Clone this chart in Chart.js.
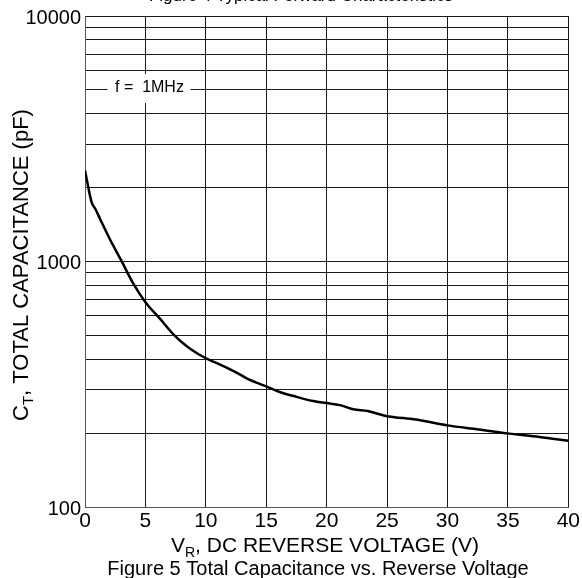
<!DOCTYPE html>
<html>
<head>
<meta charset="utf-8">
<script src="https://cdn.jsdelivr.net/npm/chart.js@4"></script>
<style>
  html, body { margin: 0; padding: 0; background: #fff; }
  canvas { display: block; }
</style>
</head>
<body>
<canvas id="capChart" width="582" height="578"></canvas>
<script>
// reverse voltage (V) and total capacitance (pF)
const voltage = [0, 0.55, 0.85, 1.25, 2.05, 3.0, 4.0, 5.0, 6.2, 7.4, 8.5, 9.4, 10.5, 11.0, 12.3, 13.6, 15.0, 16.1, 17.5, 18.9, 20.0, 21.1, 22.2, 23.4, 24.9, 27.4, 30.0, 32.6, 35.1, 37.6, 40.0];
const capacitance = [2350, 1740, 1640, 1490, 1235, 1010, 812, 683, 585, 500, 448, 419, 393, 384, 358, 330, 310, 294, 281, 270, 265, 260, 250, 246, 235, 227, 215, 207, 199, 193, 186];

const xTicks = [0, 5, 10, 15, 20, 25, 30, 35, 40];
const yGrid = [100, 200, 300, 400, 500, 600, 700, 800, 900, 1000, 2000, 3000, 4000, 5000, 6000, 7000, 8000, 9000, 10000];
const yLabels = [100, 1000, 10000];

const topText = 'Figure 4 Typical Forward Characteristics';
const caption = 'Figure 5 Total Capacitance vs. Reverse Voltage';
const noteText = 'f =  1MHz';

const FONT = '"Liberation Sans", Arial, sans-serif';
const gridColor = '#1a1a1a';

// draws text with a subscript part, centred on x
function drawParts(ctx, parts, x, y) {
  let total = 0;
  parts.forEach(p => {
    ctx.font = p.size + 'px ' + FONT;
    p.w = ctx.measureText(p.t).width;
    total += p.w;
  });
  let cx = x - total / 2;
  parts.forEach(p => {
    ctx.font = p.size + 'px ' + FONT;
    ctx.fillText(p.t, cx, y + (p.dy || 0));
    cx += p.w;
  });
}

const textPlugin = {
  id: 'textPlugin',
  afterDraw(chart) {
    const ctx = chart.ctx;
    ctx.save();
    ctx.fillStyle = '#000';
    ctx.textAlign = 'left';
    ctx.textBaseline = 'alphabetic';

    // cut off caption of the figure above
    ctx.font = '17px ' + FONT;
    ctx.textAlign = 'center';
    ctx.fillText(topText, 301, 1);
    ctx.textAlign = 'left';

    // x axis title
    drawParts(ctx, [
      {t: 'V', size: 21},
      {t: 'R', size: 14, dy: 5},
      {t: ', DC REVERSE VOLTAGE (V)', size: 21}
    ], 325, 552);

    // caption
    ctx.font = '20px ' + FONT;
    ctx.textAlign = 'center';
    ctx.fillText(caption, 318, 575);
    ctx.textAlign = 'left';

    // y axis title
    ctx.save();
    ctx.translate(28, 265);
    ctx.rotate(-Math.PI / 2);
    drawParts(ctx, [
      {t: 'C', size: 22},
      {t: 'T', size: 15, dy: 5},
      {t: ', TOTAL CAPACITANCE (pF)', size: 22}
    ], 0, 0);
    ctx.restore();

    // frequency note box
    const y5k = chart.scales.y.getPixelForValue(5000);
    const x5 = chart.scales.x.getPixelForValue(5);
    ctx.fillStyle = '#fff';
    ctx.fillRect(x5 - 38, y5k - 16, 83, 29);
    ctx.fillStyle = '#000';
    ctx.font = '16px ' + FONT;
    ctx.textBaseline = 'middle';
    ctx.fillText(noteText, 115, y5k - 2);
    ctx.restore();
  }
};

new Chart(document.getElementById('capChart'), {
  type: 'line',
  data: {
    datasets: [{
      data: voltage.map((v, i) => ({x: v, y: capacitance[i]})),
      borderColor: '#000',
      borderWidth: 2.5,
      pointRadius: 0,
      cubicInterpolationMode: 'monotone',
      fill: false
    }]
  },
  options: {
    responsive: false,
    animation: false,
    devicePixelRatio: 1,
    layout: { padding: { top: 15, right: 13, left: 0, bottom: 0 } },
    plugins: {
      legend: { display: false },
      tooltip: { enabled: false }
    },
    scales: {
      x: {
        type: 'linear',
        min: 0,
        max: 40,
        afterBuildTicks: s => { s.ticks = xTicks.map(v => ({value: v})); },
        afterFit: s => { s.height = 71; },
        grid: { color: gridColor, lineWidth: 1, drawTicks: false },
        border: { color: '#555', width: 1 },
        ticks: {
          color: '#000',
          padding: 2,
          font: { family: FONT, size: 21 }
        }
      },
      y: {
        type: 'logarithmic',
        min: 100,
        max: 10000,
        afterBuildTicks: s => { s.ticks = yGrid.map(v => ({value: v})); },
        afterFit: s => { s.width = 85; },
        grid: { color: gridColor, lineWidth: 1, drawTicks: false },
        border: { color: '#555', width: 1 },
        ticks: {
          color: '#000',
          padding: 4,
          labelOffset: 2,
          autoSkip: false,
          font: { family: FONT, size: 20 },
          callback: v => yLabels.includes(v) ? String(v) : ''
        }
      }
    }
  },
  plugins: [textPlugin]
});
</script>
</body>
</html>
